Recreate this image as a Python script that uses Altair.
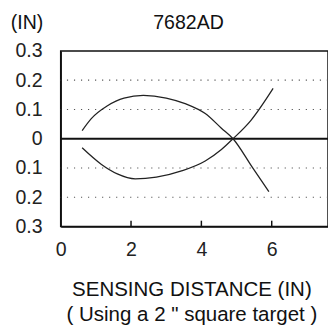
import altair as alt
import pandas as pd

# Upper curve (series A)
a_x = [0.61, 0.87, 1.33, 1.8, 2.35, 3.0, 3.56, 4.11, 4.57, 4.9, 5.45, 5.92]
a_y = [0.028, 0.069, 0.113, 0.139, 0.148, 0.139, 0.119, 0.086, 0.036, 0.0, -0.098, -0.181]
# Lower curve (series B)
b_x = [0.61, 1.15, 1.61, 2.12, 2.72, 3.46, 4.11, 4.57, 4.9, 5.41, 6.04]
b_y = [-0.031, -0.087, -0.12, -0.137, -0.131, -0.109, -0.076, -0.037, 0.0, 0.063, 0.172]

x_ticks = [0, 2, 4, 6]
y_ticks = [-0.3, -0.2, -0.1, 0, 0.1, 0.2, 0.3]
grid_vals = [-0.2, -0.1, 0.1, 0.2]

df = pd.concat([
    pd.DataFrame({"x": a_x, "y": a_y, "s": "A"}),
    pd.DataFrame({"x": b_x, "y": b_y, "s": "B"}),
])

FONT = "Liberation Sans"
xscale = alt.Scale(domain=[0, 7.6], nice=False, zero=False)
yscale = alt.Scale(domain=[-0.3, 0.3], nice=False)

xaxis = alt.Axis(
    values=x_ticks, grid=False, ticks=False, labelPadding=14, labelFlush=False,
    labelFontSize=20, labelFont=FONT, labelColor="#222", labelOverlap=False,
    domainColor="#111", domainWidth=1.5,
    title=["SENSING DISTANCE (IN)", "( Using a 2 \" square target )"],
    titleFont=FONT, titleFontSize=21, titleFontWeight="normal", titleColor="#111",
    titlePadding=20, titleLineHeight=25, titleX=134,
)
yaxis = alt.Axis(
    values=y_ticks, grid=False, ticks=False, labelPadding=19, labelFlush=False,
    labelFontSize=20, labelFont=FONT, labelColor="#222", labelOverlap=False,
    labelExpr="datum.value == 0 ? '0' : format(abs(datum.value), '.1f')",
    domainColor="#111", domainWidth=1.5,
    title="(IN)", titleAngle=0, titleAlign="center", titleBaseline="middle",
    titleX=-35, titleY=-29, titleFont=FONT, titleFontSize=20,
    titleFontWeight="normal", titleColor="#111",
)

grid = alt.Chart(pd.DataFrame({"g": grid_vals})).mark_rule(
    color="#555", strokeDash=[1.2, 6], strokeWidth=1.2
).encode(y=alt.Y("g:Q", scale=yscale, axis=yaxis))

zero = alt.Chart(pd.DataFrame({"z": [0]})).mark_rule(
    color="#111", strokeWidth=2
).encode(y=alt.Y("z:Q", scale=yscale, axis=yaxis))

ticks = alt.Chart(pd.DataFrame({"t": x_ticks[1:]})).mark_rule(
    color="#111", strokeWidth=1.5
).encode(x=alt.X("t:Q", scale=xscale, axis=xaxis), y=alt.value(180), y2=alt.value(174))

lines = alt.Chart(df).mark_line(
    color="#222", strokeWidth=1.3, interpolate="monotone"
).encode(
    x=alt.X("x:Q", scale=xscale, axis=xaxis),
    y=alt.Y("y:Q", scale=yscale, axis=yaxis),
    detail="s:N",
)

chart = alt.layer(grid, zero, ticks, lines).properties(
    width=274, height=180,
    title=alt.TitleParams("7682AD", font=FONT, fontSize=20, fontWeight="normal",
                          color="#111", offset=-20, dx=-6),
    autosize=alt.AutoSizeParams(type="none"),
    padding={"left": 54, "top": 40, "right": 0, "bottom": 101},
).configure_view(stroke="#111", strokeWidth=1.5).configure_axis(labelOverlap=False)

chart.save("out.html", embed_options={"renderer": "svg", "actions": False})
